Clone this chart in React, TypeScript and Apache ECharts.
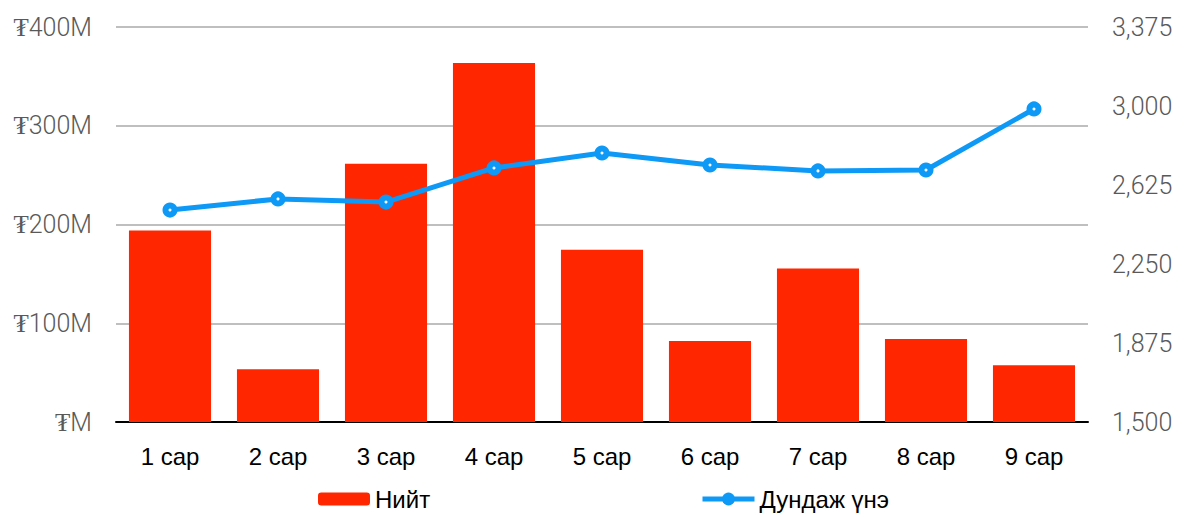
import React, { useEffect, useRef } from "react";
import * as echarts from "echarts";

const categories = ["1 сар", "2 сар", "3 сар", "4 сар", "5 сар", "6 сар", "7 сар", "8 сар", "9 сар"];
const totalValues = [194, 53.5, 261.5, 363.5, 174.5, 82, 155.5, 84, 57.5]; // millions ₮
const avgPrice = [2506, 2559, 2544, 2706, 2777, 2720, 2692, 2696, 2986];
const seriesNames = ["Нийт", "Дундаж үнэ"];

const BAR_COLOR = "#ff2600";
const LINE_COLOR = "#0e99f6";

export default function App() {
  const ref = useRef<HTMLDivElement>(null);
  useEffect(() => {
    if (!ref.current) return;
    const chart = echarts.init(ref.current, undefined, { renderer: "svg" });
    const axisLabelStyle = {
      color: "#595959",
      fontFamily: "Roboto",
      fontWeight: 300 as any,
      fontSize: 25,
    };
    chart.setOption({
      animation: false,
      backgroundColor: "#ffffff",
      grid: { left: 116, right: 107, top: 27, bottom: 95, containLabel: false },
      legend: [
        {
          data: [seriesNames[0]],
          left: 313,
          top: 482,
          itemWidth: 52,
          itemHeight: 13,
          textStyle: { color: "#000", fontFamily: "Liberation Sans", fontSize: 24 },
          itemGap: 6,
        },
        {
          data: [
            {
              name: seriesNames[1],
              itemStyle: { color: LINE_COLOR, borderWidth: 0 },
              lineStyle: { color: LINE_COLOR, width: 5 },
            },
          ],
          left: 695,
          top: 482,
          itemWidth: 52,
          itemHeight: 16,
          textStyle: { color: "#000", fontFamily: "Liberation Sans", fontSize: 24 },
        },
      ],
      xAxis: {
        type: "category",
        data: categories,
        axisTick: { show: false },
        axisLine: { show: true, lineStyle: { color: "#000", width: 2 } },
        axisLabel: { color: "#000", fontFamily: "Liberation Sans", fontSize: 24, margin: 22 },
      },
      yAxis: [
        {
          type: "value",
          min: 0,
          max: 400,
          interval: 100,
          axisLine: { show: false },
          axisTick: { show: false },
          splitLine: { show: true, lineStyle: { color: "#bfbfbf", width: 2 } },
          axisLabel: {
            ...axisLabelStyle,
            margin: 24,
            formatter: (v: number) => (v === 0 ? "₮M" : "₮" + v + "M"),
          },
        },
        {
          type: "value",
          min: 1500,
          max: 3375,
          interval: 375,
          position: "right",
          axisLine: { show: false },
          axisTick: { show: false },
          splitLine: { show: false },
          axisLabel: {
            ...axisLabelStyle,
            margin: 24,
            formatter: (v: number) => v.toLocaleString("en-US"),
          },
        },
      ],
      series: [
        {
          name: seriesNames[0],
          type: "bar",
          data: totalValues,
          barWidth: "76%",
          itemStyle: { color: BAR_COLOR },
          z: 2,
        },
        {
          name: seriesNames[1],
          type: "line",
          yAxisIndex: 1,
          data: avgPrice,
          symbol: "circle",
          symbolSize: 9,
          lineStyle: { color: LINE_COLOR, width: 5 },
          itemStyle: { color: "#ffffff", borderColor: LINE_COLOR, borderWidth: 6 },
          z: 3,
        },
      ],
    });
    return () => chart.dispose();
  }, []);
  return <div ref={ref} style={{ width: 1195, height: 517, position: "absolute", left: 0, top: 0 }} />;
}
